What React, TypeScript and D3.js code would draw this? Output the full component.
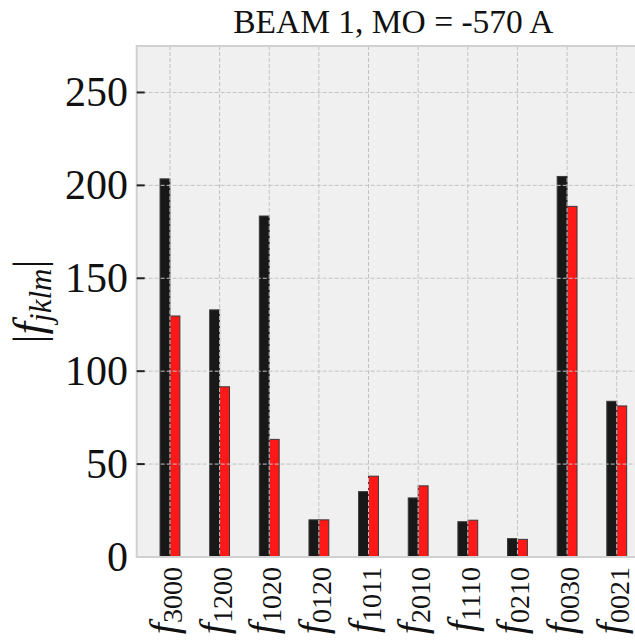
import React from "react";
import * as d3 from "d3";

const categories = ["3000", "1200", "1020", "0120", "1011", "2010", "1110", "0210", "0030", "0021"];
const blackValues = [203.5, 133, 183.5, 20, 35.2, 31.8, 19, 9.9, 204.8, 83.8];
const redValues = [129.7, 91.6, 63.3, 20, 43.5, 38.3, 19.8, 9.5, 188.7, 81.3];
const yTicks = [0, 50, 100, 150, 200, 250];
const title = "BEAM 1, MO = -570 A";

const W = 635;
const H = 644;
const FONT = "'Liberation Serif', 'DejaVu Serif', serif";

export default function App() {
  const left = 136.7;
  const right = 650;
  const top = 46;
  const bottom = 557;
  const barW = 0.2;
  const x = d3.scaleLinear().domain([-0.67, categories.length - 1 + 0.67]).range([left, right]);
  const y = d3.scaleLinear().domain([0, 275]).range([bottom, top]);

  return (
    <svg
      width={W}
      height={H}
      style={{ position: "absolute", left: 0, top: 0, background: "#fff" }}
      fontFamily={FONT}
    >
      <rect x={left} y={top} width={right - left} height={bottom - top} fill="#f0f0f0" />

      {categories.map((c, i) => (
        <g key={c}>
          <rect
            x={x(i - barW)}
            y={y(blackValues[i])}
            width={x(i) - x(i - barW)}
            height={y(0) - y(blackValues[i])}
            fill="#181818"
            stroke="#3a3a3a"
            strokeWidth={1}
          />
          <rect
            x={x(i)}
            y={y(redValues[i])}
            width={x(i + barW) - x(i)}
            height={y(0) - y(redValues[i])}
            fill="#fe1818"
            stroke="#3a3a3a"
            strokeWidth={1}
          />
        </g>
      ))}

      {yTicks.filter((t) => t > 0).map((t) => (
        <line key={"gy" + t} x1={left} x2={right} y1={y(t)} y2={y(t)} stroke="#c2c2c2" strokeWidth={1} strokeDasharray="4,2" />
      ))}
      {categories.map((c, i) => (
        <line key={"gx" + c} x1={x(i)} x2={x(i)} y1={top} y2={bottom} stroke="#c2c2c2" strokeWidth={1} strokeDasharray="4,2" />
      ))}

      <rect x={left} y={top} width={right - left} height={bottom - top} fill="none" stroke="#d0d0d0" strokeWidth={2} />

      {yTicks.map((t) => (
        <g key={"yt" + t}>
          {t > 0 && <line x1={left} x2={left + 8} y1={y(t)} y2={y(t)} stroke="#222" strokeWidth={2} />}
          <text x={128} y={y(t) + 14} textAnchor="end" fontSize={42} fill="#111">
            {t}
          </text>
        </g>
      ))}

      {categories.map((c, i) => (
        <text
          key={"xl" + c}
          transform={`translate(${x(i) + 7},${567}) rotate(-90)`}
          textAnchor="end"
          fontSize={40}
          fill="#111"
        >
          <tspan fontStyle="italic">f</tspan>
          <tspan fontSize={28} dy={5}>{c}</tspan>
        </text>
      ))}

      <text
        transform={`translate(${44},${(top + bottom) / 2}) rotate(-90)`}
        textAnchor="middle"
        fontSize={45}
        fill="#111"
      >
        <tspan>|</tspan>
        <tspan fontStyle="italic">f</tspan>
        <tspan fontStyle="italic" fontSize={31} dy={7}>jklm</tspan>
        <tspan dy={-7}>|</tspan>
      </text>

      <text x={(left + right) / 2} y={33} textAnchor="middle" fontSize={33.5} fill="#111">
        {title}
      </text>
    </svg>
  );
}
